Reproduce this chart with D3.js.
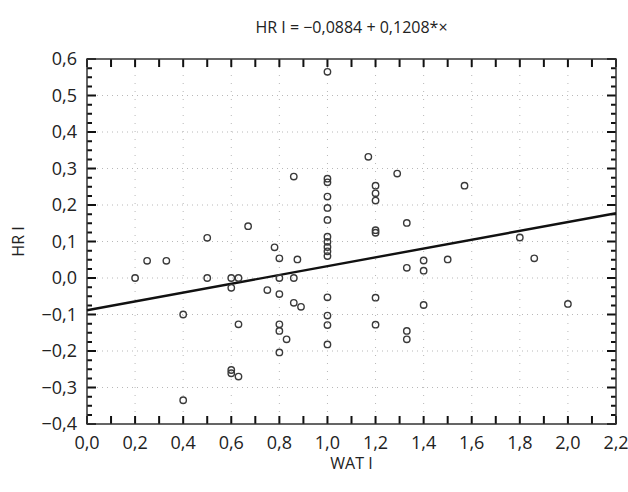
<!DOCTYPE html>
<html>
<head>
<meta charset="utf-8">
<script src="https://cdn.jsdelivr.net/npm/d3@7"></script>
<style>
  body { margin: 0; background: #fff; }
  text { font-family: "Open Sans", "Noto Sans", sans-serif; fill: #222; }
</style>
</head>
<body>
<svg width="628" height="492"></svg>
<script>
// data
const wat = [0.2, 0.25, 0.33, 0.4, 0.4, 0.5, 0.5, 0.6, 0.6, 0.6, 0.6, 0.63, 0.63, 0.63,
  0.67, 0.75, 0.78, 0.8, 0.8, 0.8, 0.8, 0.8, 0.8, 0.83, 0.86, 0.86, 0.86, 0.875, 0.89,
  1.0, 1.0, 1.0, 1.0, 1.0, 1.0, 1.0, 1.0, 1.0, 1.0, 1.0, 1.0, 1.0, 1.0, 1.0,
  1.17, 1.2, 1.2, 1.2, 1.2, 1.2, 1.2, 1.2, 1.29, 1.33, 1.33, 1.33, 1.33,
  1.4, 1.4, 1.4, 1.5, 1.57, 1.8, 1.86, 2.0];
const hr = [0.0, 0.047, 0.047, -0.1, -0.335, 0.11, 0.0, 0.0, -0.027, -0.252, -0.261, 0.0, -0.127, -0.27,
  0.142, -0.033, 0.084, 0.054, 0.0, -0.044, -0.127, -0.145, -0.204, -0.168, 0.278, 0.0, -0.068, 0.051, -0.079,
  0.565, 0.272, 0.262, 0.223, 0.192, 0.159, 0.113, 0.099, 0.085, 0.073, 0.06, -0.053, -0.103, -0.129, -0.182,
  0.332, 0.253, 0.232, 0.212, 0.131, 0.124, -0.054, -0.128, 0.286, 0.151, 0.028, -0.145, -0.168,
  0.048, 0.02, -0.074, 0.051, 0.253, 0.111, 0.054, -0.071];
const intercept = -0.0884;
const slope = 0.1208;
const xTickLabels = ['0,0', '0,2', '0,4', '0,6', '0,8', '1,0', '1,2', '1,4', '1,6', '1,8', '2,0', '2,2'];
const yTickLabels = ['\u22120,4', '\u22120,3', '\u22120,2', '\u22120,1', '0,0', '0,1', '0,2', '0,3', '0,4', '0,5', '0,6'];

const svg = d3.select('svg');
const margin = {left: 87, right: 12, top: 59, bottom: 68};
const width = 628 - margin.left - margin.right;
const height = 492 - margin.top - margin.bottom;

const x = d3.scaleLinear().domain([0, 2.2]).range([0, width]);
const y = d3.scaleLinear().domain([-0.4, 0.6]).range([height, 0]);

const g = svg.append('g').attr('transform', `translate(${margin.left},${margin.top})`);

//grid
const xGrid = d3.range(1, 11).map(i => i * 0.2);
const yGrid = d3.range(1, 10).map(i => -0.4 + i * 0.1);
g.append('g').selectAll('line').data(xGrid).join('line')
    .attr('x1', d => x(d)).attr('x2', d => x(d))
    .attr('y1', 0).attr('y2', height)
    .attr('stroke', '#b8b8b8').attr('stroke-width', 1)
    .attr('stroke-dasharray', '1,7');
g.append('g').selectAll('line').data(yGrid).join('line')
    .attr('x1', 0).attr('x2', width)
    .attr('y1', d => y(d)).attr('y2', d => y(d))
    .attr('stroke', '#b8b8b8').attr('stroke-width', 1)
    .attr('stroke-dasharray', '1,4');

//inner ticks on all four sides, drawn as one path
const xt = d3.range(0, 23).map(i => i * 0.1);
const yt = d3.range(0, 41).map(i => -0.4 + i * 0.025);
let tickPath = '';
xt.forEach(d => {
  tickPath += `M${x(d)},${height}V${height - 8}M${x(d)},0V8`;
});
yt.forEach((d, i) => {
  const len = i % 4 === 0 ? 9 : 5;
  tickPath += `M0,${y(d)}H${len}M${width},${y(d)}H${width - len}`;
});
g.append('path')
    .attr('d', tickPath)
    .attr('fill', 'none')
    .attr('stroke', '#111')
    .attr('stroke-width', 2);

//frame
g.append('rect')
    .attr('width', width).attr('height', height)
    .attr('fill', 'none').attr('stroke', '#333').attr('stroke-width', 1.5);

//tick labels
g.append('g').selectAll('text').data(xTickLabels).join('text')
    .attr('x', (d, i) => x(i * 0.2))
    .attr('y', height + 25)
    .attr('text-anchor', 'middle')
    .attr('font-size', 18)
    .text(d => d);
g.append('g').selectAll('text').data(yTickLabels).join('text')
    .attr('x', -10)
    .attr('y', (d, i) => y(-0.4 + i * 0.1))
    .attr('dy', '0.35em')
    .attr('text-anchor', 'end')
    .attr('font-size', 18)
    .text(d => d);

//regression line
g.append('line')
    .attr('x1', x(0)).attr('y1', y(intercept))
    .attr('x2', x(2.2)).attr('y2', y(intercept + slope * 2.2))
    .attr('stroke', '#111').attr('stroke-width', 2.4);

//points
g.append('g').selectAll('circle').data(wat).join('circle')
    .attr('cx', d => x(d))
    .attr('cy', (d, i) => y(hr[i]))
    .attr('r', 3.2)
    .attr('fill', 'none')
    .attr('stroke', '#3a3a3a')
    .attr('stroke-width', 1.4);

//titles
svg.append('text')
    .attr('x', margin.left + width / 2).attr('y', 33)
    .attr('text-anchor', 'middle').attr('font-size', 16)
    .text('HR I = \u22120,0884 + 0,1208*\u00d7');
svg.append('text')
    .attr('x', margin.left + width / 2).attr('y', 469)
    .attr('text-anchor', 'middle').attr('font-size', 16)
    .text('WAT I');
svg.append('text')
    .attr('transform', `translate(24,${margin.top + height / 2}) rotate(-90)`)
    .attr('text-anchor', 'middle').attr('font-size', 16)
    .text('HR I');
</script>
</body>
</html>
